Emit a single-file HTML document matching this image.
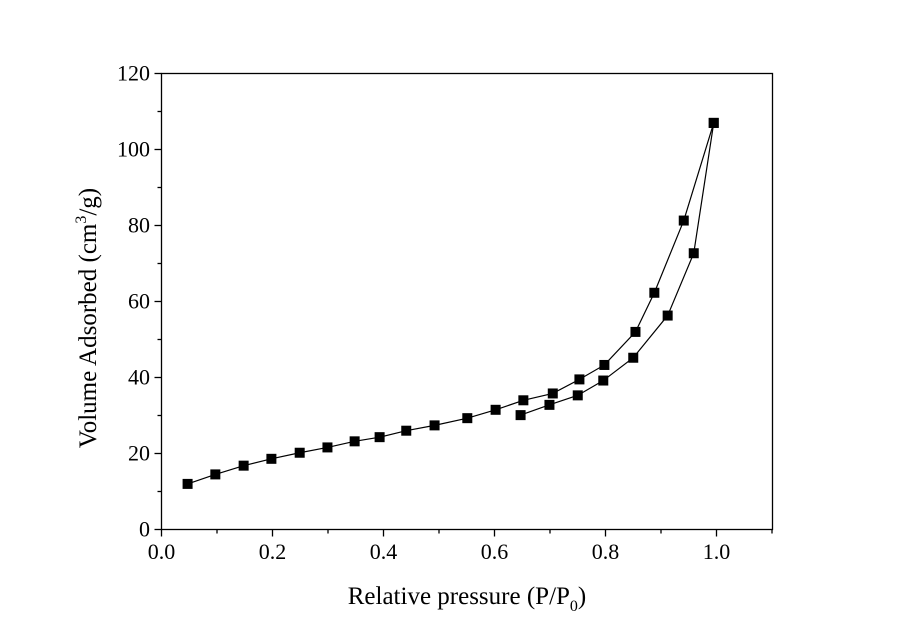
<!DOCTYPE html>
<html><head><meta charset="utf-8"><style>
body{margin:0;background:#fff}
svg text{font-family:"Liberation Serif",serif;fill:#000}
</style></head><body>
<svg id="chart" width="900" height="636" viewBox="0 0 900 636" xmlns="http://www.w3.org/2000/svg">
<rect x="161.5" y="73.5" width="611" height="456" fill="none" stroke="#000" stroke-width="1.3"/>
<g id="axes"></g>
<g id="series"></g>
<text x="467" y="604" font-size="25" text-anchor="middle">Relative pressure (P/P<tspan font-size="16" dy="7">0</tspan><tspan dy="-7">)</tspan></text>
<text transform="translate(96,318) rotate(-90)" font-size="25" text-anchor="middle">Volume Adsorbed (cm<tspan font-size="16" dy="-10">3</tspan><tspan dy="10">/g)</tspan></text>
</svg>
<script>
const xTicks=[0.0,0.2,0.4,0.6,0.8,1.0];
const xTickLabels=["0.0","0.2","0.4","0.6","0.8","1.0"];
const yTicks=[0,20,40,60,80,100,120];
const yTickLabels=["0","20","40","60","80","100","120"];
const adsP=[0.047,0.097,0.148,0.198,0.249,0.299,0.348,0.393,0.441,0.492,0.551,0.602,0.652,0.705,0.753,0.798,0.854,0.888,0.941,0.995];
const adsV=[12,14.5,16.8,18.6,20.2,21.6,23.2,24.3,26,27.4,29.3,31.5,34,35.8,39.5,43.3,52,62.3,81.3,107];
const desP=[0.995,0.959,0.912,0.850,0.796,0.750,0.699,0.647];
const desV=[107,72.7,56.3,45.2,39.2,35.3,32.8,30.1];
const NS="http://www.w3.org/2000/svg";
const X=v=>161.5+v*555;
const Y=v=>529.5-v*(456/120);
function mk(t,a,p){const e=document.createElementNS(NS,t);for(const k in a)e.setAttribute(k,a[k]);p.appendChild(e);return e;}
const ax=document.getElementById('axes');
for(let v=0;v<=1.1001;v+=0.1){const major=Math.round(v*10)%2===0;
const t=mk('line',{x1:X(v),x2:X(v),y1:529.5,y2:529.5+(major?7:4),stroke:'#000','stroke-width':1.3},ax);

}
for(let v=0;v<=120;v+=10){const major=v%20===0;
const t=mk('line',{x1:161.5,x2:161.5-(major?7:4),y1:Y(v),y2:Y(v),stroke:'#000','stroke-width':1.3},ax);

}
xTicks.forEach((v,i)=>{const t=mk('text',{x:X(v),y:559,'font-size':22,'text-anchor':'middle'},ax);t.textContent=xTickLabels[i];

});
yTicks.forEach((v,i)=>{const t=mk('text',{x:150,y:Y(v)+7,'font-size':22,'text-anchor':'end'},ax);t.textContent=yTickLabels[i];

});
const sg=document.getElementById('series');
function series(P,V,name){
const l=mk('polyline',{points:P.map((p,i)=>X(p)+','+Y(V[i])).join(' '),fill:'none',stroke:'#000','stroke-width':1.2},sg);


P.forEach((p,i)=>{const r=mk('rect',{x:X(p)-5,y:Y(V[i])-5,width:10,height:10,fill:'#000'},sg);

});}
series(adsP,adsV,'adsorption');
series(desP,desV,'desorption');
</script>
</body></html>
